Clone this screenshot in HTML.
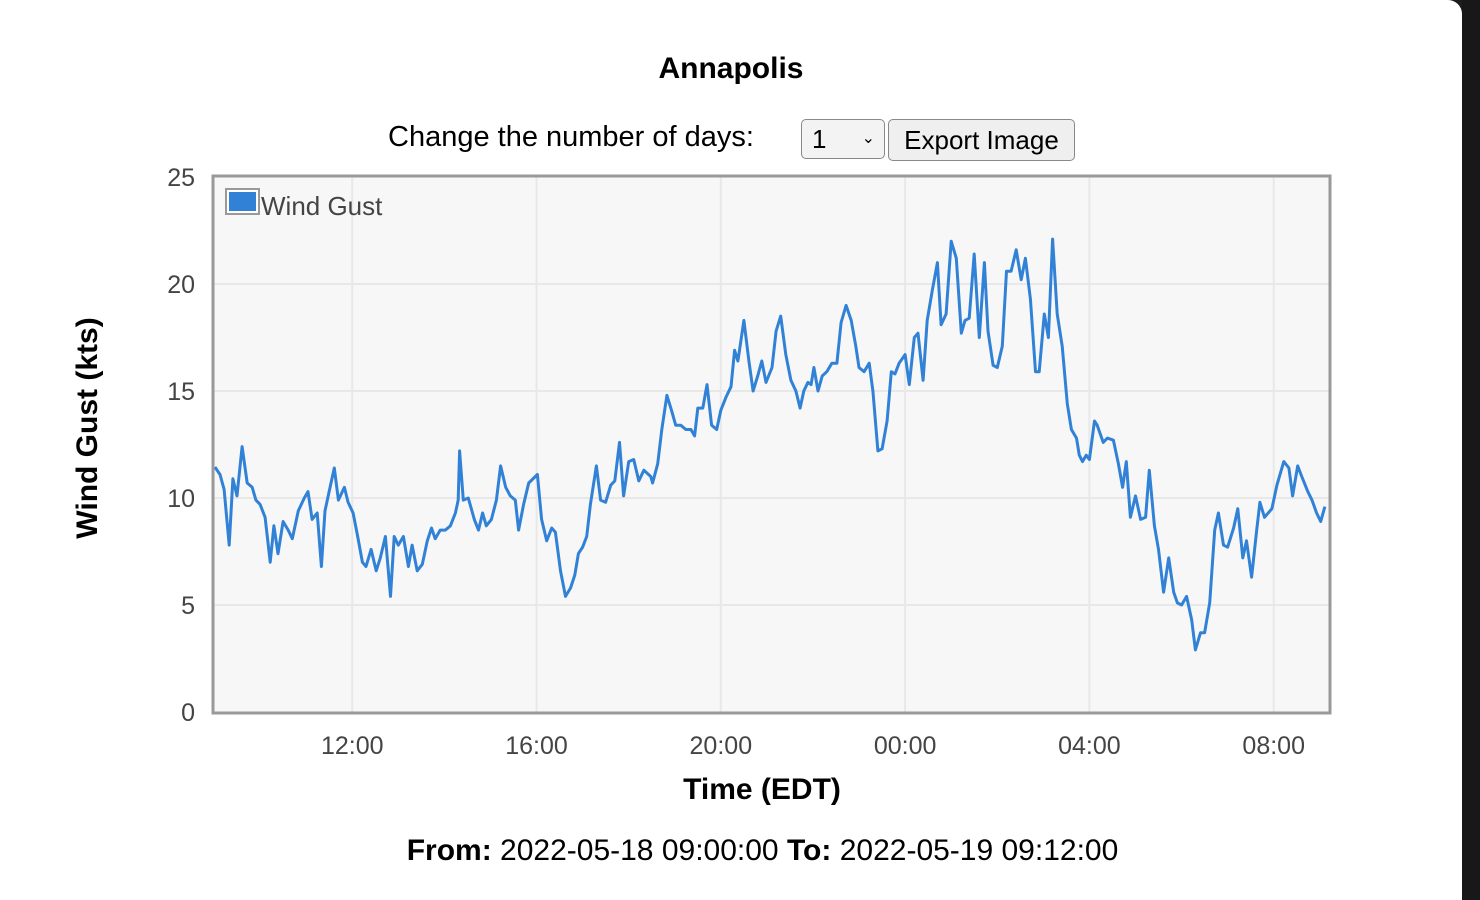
<!DOCTYPE html>
<html><head><meta charset="utf-8"><style>
body{margin:0;width:1480px;height:900px;background:#1c1c1c;overflow:hidden;font-family:"Liberation Sans",Arial,sans-serif;}
#panel{position:absolute;left:0;top:0;width:1462px;height:900px;background:#fff;border-top-right-radius:14px;}
#strip{position:absolute;left:1462px;top:0;width:18px;height:900px;background:#181818;}
.t{position:absolute;white-space:nowrap;}
</style></head><body>
<div id="strip"></div>
<div id="panel">
<div class="t" style="left:0;width:1462px;text-align:center;top:52px;font-size:30px;font-weight:bold;">Annapolis</div>
<div class="t" style="left:388px;top:121px;font-size:29px;">Change the number of days:</div>
<div class="t" style="left:801px;top:119px;width:84px;height:40px;box-sizing:border-box;border:1px solid #888;border-radius:5px;background:#f3f3f3;font-size:26px;line-height:38px;padding-left:10px;">1<span style="position:absolute;right:9px;top:0;font-size:16px;">&#8964;</span></div>
<div class="t" style="left:888px;top:119px;width:187px;height:42px;box-sizing:border-box;border:1px solid #888;border-radius:5px;background:#efefef;font-size:26px;line-height:40px;text-align:center;">Export Image</div>
<svg id="chart" style="position:absolute;left:0;top:0" width="1462" height="900"></svg>
<div class="t" style="left:0;width:1525px;text-align:center;top:834px;font-size:30px;"><b>From:</b> 2022-05-18 09:00:00 <b>To:</b> 2022-05-19 09:12:00</div>
</div>
<script>
const hours=[.02,.13,.22,.33,.41,.5,.61,.72,.83,.91,1.0,1.11,1.22,1.3,1.39,1.5,1.61,1.7,1.83,1.96,2.04,2.13,2.24,2.33,2.41,2.54,2.61,2.7,2.83,2.91,3.02,3.11,3.22,3.3,3.41,3.52,3.61,3.72,3.83,3.91,4.0,4.11,4.22,4.3,4.41,4.52,4.63,4.72,4.8,4.91,5.02,5.13,5.24,5.3,5.33,5.41,5.52,5.65,5.74,5.83,5.91,6.02,6.13,6.22,6.33,6.43,6.54,6.61,6.72,6.83,7.02,7.11,7.22,7.33,7.41,7.52,7.63,7.74,7.83,7.91,8.0,8.09,8.17,8.3,8.39,8.5,8.61,8.7,8.8,8.89,9.0,9.11,9.22,9.33,9.48,9.52,9.63,9.72,9.83,9.93,10.02,10.13,10.24,10.35,10.43,10.5,10.61,10.7,10.8,10.91,11.0,11.11,11.22,11.3,11.37,11.5,11.61,11.7,11.8,11.89,11.98,12.11,12.2,12.3,12.41,12.52,12.63,12.72,12.8,12.89,12.96,13.02,13.11,13.2,13.3,13.41,13.52,13.61,13.72,13.83,13.93,14.0,14.11,14.22,14.3,14.41,14.5,14.61,14.7,14.78,14.87,15.0,15.09,15.2,15.28,15.39,15.48,15.59,15.7,15.78,15.89,16.0,16.11,16.22,16.3,16.39,16.5,16.61,16.72,16.8,16.91,17.0,17.11,17.2,17.3,17.41,17.52,17.61,17.72,17.83,17.91,18.02,18.11,18.2,18.3,18.41,18.52,18.61,18.72,18.78,18.85,18.93,19.0,19.11,19.17,19.3,19.39,19.52,19.63,19.72,19.8,19.89,20.0,20.11,20.22,20.3,20.41,20.5,20.61,20.72,20.83,20.91,21.0,21.11,21.22,21.3,21.41,21.5,21.61,21.72,21.8,21.91,22.0,22.13,22.22,22.33,22.41,22.52,22.63,22.7,22.8,22.96,23.07,23.22,23.33,23.41,23.52,23.61,23.74,23.83,23.93,24.02,24.11];
const gusts=[11.45,11.1,10.4,7.8,10.9,10.1,12.4,10.7,10.5,9.9,9.7,9.1,7.0,8.7,7.4,8.9,8.5,8.1,9.4,10.0,10.3,9.0,9.3,6.8,9.4,10.7,11.4,9.9,10.5,9.8,9.3,8.3,7.0,6.8,7.6,6.6,7.2,8.2,5.4,8.2,7.8,8.2,6.8,7.8,6.6,6.9,8.0,8.6,8.1,8.5,8.5,8.7,9.3,9.9,12.2,9.9,10.0,9.0,8.5,9.3,8.7,9.0,9.9,11.5,10.5,10.1,9.9,8.5,9.7,10.7,11.1,9.0,8.0,8.6,8.4,6.6,5.4,5.8,6.4,7.4,7.7,8.2,9.7,11.5,9.9,9.8,10.6,10.8,12.6,10.1,11.7,11.8,10.8,11.3,11.0,10.7,11.6,13.2,14.8,14.1,13.4,13.4,13.2,13.2,12.9,14.2,14.2,15.3,13.4,13.2,14.1,14.7,15.2,16.9,16.4,18.3,16.4,15.0,15.7,16.4,15.4,16.1,17.8,18.5,16.7,15.5,15.0,14.2,15.0,15.4,15.3,16.1,15.0,15.7,15.9,16.3,16.3,18.2,19.0,18.3,17.1,16.1,15.9,16.3,15.0,12.2,12.3,13.6,15.9,15.8,16.3,16.7,15.3,17.5,17.7,15.5,18.3,19.7,21.0,18.1,18.6,22.0,21.2,17.7,18.3,18.4,21.4,17.5,21.0,17.8,16.2,16.1,17.1,20.6,20.6,21.6,20.2,21.2,19.3,15.9,15.9,18.6,17.5,22.1,18.6,17.1,14.4,13.2,12.8,12.0,11.7,12.0,11.8,13.6,13.4,12.6,12.8,12.7,11.6,10.5,11.7,9.1,10.1,9.0,9.1,11.3,8.7,7.6,5.6,7.2,5.6,5.1,5.0,5.4,4.3,2.9,3.7,3.7,5.1,8.5,9.3,7.8,7.7,8.6,9.5,7.2,8.0,6.3,8.5,9.8,9.1,9.5,10.6,11.7,11.4,10.1,11.5,11.0,10.3,9.9,9.3,8.9,9.6];
const yTicks=[0,5,10,15,20,25];
const xTickHours=[3,7,11,15,19,23];
const xTickLabels=["12:00","16:00","20:00","00:00","04:00","08:00"];

const NS="http://www.w3.org/2000/svg";
const svg=document.getElementById('chart');
const L=214,R=1329,T=177,B=712,HMAX=24.2,VMAX=25;
function xs(h){return L+h/HMAX*(R-L);}
function ys(v){return B-v/VMAX*(B-T);}
function mk(tag,attrs,parent){const e=document.createElementNS(NS,tag);for(const k in attrs)e.setAttribute(k,attrs[k]);(parent||svg).appendChild(e);return e;}
const bg=mk('rect',{x:L,y:T,width:R-L,height:B-T,fill:'#f7f7f7'});


yTicks.forEach(v=>{
  if(v>0&&v<VMAX){const g=mk('line',{x1:L,x2:R,y1:ys(v),y2:ys(v),stroke:'#e8e8e8','stroke-width':2});
  
  }
  const t=mk('text',{x:195,y:ys(v)+9,'text-anchor':'end','font-size':25,fill:'#444','font-family':'Liberation Sans, Arial, sans-serif'});
  t.textContent=v;
  
  
});
xTickHours.forEach((h,i)=>{
  const g=mk('line',{x1:xs(h),x2:xs(h),y1:T,y2:B,stroke:'#e8e8e8','stroke-width':2});
  
  
  const t=mk('text',{x:xs(h),y:754,'text-anchor':'middle','font-size':25,fill:'#444','font-family':'Liberation Sans, Arial, sans-serif'});
  t.textContent=xTickLabels[i];
  
  
});
const pts=hours.map((h,i)=>xs(h).toFixed(1)+','+ys(gusts[i]).toFixed(1)).join(' ');
const line=mk('polyline',{points:pts,fill:'none',stroke:'#3182d6','stroke-width':3,'stroke-linejoin':'round'});


const border=mk('rect',{x:L-1,y:T-1,width:R-L+2,height:B-T+2,fill:'none',stroke:'#999','stroke-width':3});


const lg=mk('g',{});


mk('rect',{x:226,y:189,width:33,height:25,fill:'#fff',stroke:'#999','stroke-width':2},lg);
mk('rect',{x:229,y:192,width:27,height:19,fill:'#3182d6'},lg);
const lt=mk('text',{x:261,y:215,'font-size':26,fill:'#444','font-family':'Liberation Sans, Arial, sans-serif'},lg);
lt.textContent='Wind Gust';
const xt=mk('text',{x:762,y:799,'text-anchor':'middle','font-size':30,'font-weight':'bold',fill:'#000','font-family':'Liberation Sans, Arial, sans-serif'});
xt.textContent='Time (EDT)';


const yt=mk('text',{x:0,y:0,'text-anchor':'middle','font-size':30,'font-weight':'bold',fill:'#000','font-family':'Liberation Sans, Arial, sans-serif',transform:'translate(97,428) rotate(-90)'});
yt.textContent='Wind Gust (kts)';


</script>
</body></html>
